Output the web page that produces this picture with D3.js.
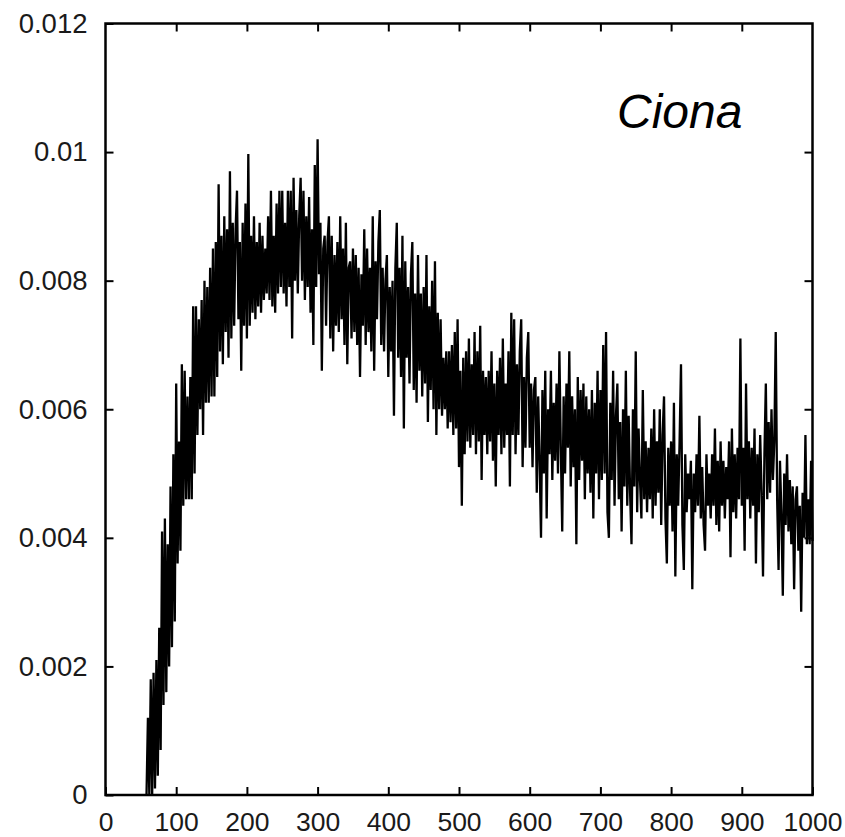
<!DOCTYPE html>
<html lang="en">
<head>
  <meta charset="UTF-8">
  <title>Ciona</title>
  <script src="https://d3js.org/d3.v7.min.js"></script>
  <style>
    body { margin: 0; background: #fff; }
    svg { display: block; }
    .tick text { font-family: "Liberation Sans", Arial, sans-serif; fill: #1a1a1a; }
    .x-axis .tick text { font-size: 26.5px; }
    .y-axis .tick text { font-size: 27.5px; }
  </style>
</head>
<body>
  <svg id="chart"></svg>

  <script>
    // sampled every 2 units starting at 58; values in units of 0.001
    const xFirst = 58;
    const xStep = 2;

    const riseValues = [
      0, 1.2, 0, 1.8, 0, 1.9, 0.1, 2.1, 0.3, 2.6, 0.7,
      4.1, 1.4, 4.3, 1.6, 3.9, 2.0, 4.8, 2.3, 5.3, 2.7, 6.4, 3.6, 5.5, 3.8, 6.7, 4.5, 6.6, 4.6, 6.2, 4.6,
      6.5, 4.6, 7.6, 5.0, 7.6, 5.6, 7.4, 6.0, 7.7, 5.6, 8.0, 6.1, 7.9, 6.1, 8.2, 6.2, 8.5, 6.2, 8.6, 6.5
    ];

    const peakValues = [
      9.5, 6.9, 8.7, 6.7, 9.0, 7.2, 8.8, 6.8, 9.7, 7.1, 8.9, 7.3, 8.8, 9.4, 7.4, 8.6, 6.6, 8.9, 7.3, 9.2,
      7.1, 9.97, 7.3, 8.7, 7.5, 9.0, 7.4, 8.6, 7.6, 8.9, 7.5, 8.7, 7.7, 8.5, 7.8, 9.0, 7.7, 9.4, 7.6, 8.7,
      7.5, 9.2, 7.8, 9.4, 7.9, 9.4, 7.8, 8.9, 7.6, 9.4, 7.9, 9.4, 7.1, 9.6, 8.0, 9.1, 7.8, 9.0, 9.6, 8.0,
      9.4, 7.7, 9.0, 7.9, 9.3, 7.5, 8.8, 7.0, 9.8, 7.9, 10.2, 8.1, 8.9, 6.6, 8.5, 8.7, 7.3, 8.6, 9.0, 7.1
    ];

    const declineValues = [
      8.7, 6.9, 8.4, 7.3, 8.6, 7.2, 9.0, 7.4, 8.5, 7.0, 8.9, 6.7, 8.2, 8.3, 7.1, 8.5, 7.2, 8.4, 7.0, 8.2,
      6.5, 8.1, 7.3, 8.8, 7.0, 8.5, 7.2, 8.2, 6.9, 9.0, 6.6, 8.3, 7.4, 8.6, 9.1, 7.0, 8.2, 6.9, 8.0, 8.4,
      6.5, 7.9, 6.9, 8.0, 5.9, 8.2, 8.9, 6.8, 8.2, 6.5, 8.7, 5.7, 8.3, 6.8, 7.9, 6.4, 8.1, 8.6, 6.3, 7.8,
      6.1, 8.4, 6.6, 7.8, 6.2, 7.9, 6.4, 8.4, 5.8, 7.6, 6.3, 8.0, 6.0, 8.3, 5.6, 7.5, 6.0, 7.4, 5.9, 6.8,
      6.0, 6.9, 5.7, 6.9, 5.8, 7.0, 5.6, 7.2, 5.7, 7.4, 5.1, 6.6, 4.5, 6.8, 5.3, 6.9, 5.5, 7.1, 5.4, 6.7
    ];

    const plateauValues = [
      5.6, 7.2, 5.3, 6.9, 5.5, 7.3, 4.9, 6.6, 5.6, 6.5, 5.3, 6.6, 5.5, 6.9, 5.2, 6.4, 4.8, 6.6, 5.6, 6.8,
      5.3, 7.1, 5.4, 6.4, 5.6, 6.9, 4.8, 7.5, 5.6, 7.4, 5.3, 6.7, 5.6, 6.9, 7.4, 5.1, 6.5, 5.4, 6.8, 7.2,
      5.4, 6.4, 5.1, 6.3, 6.5, 4.7, 6.2, 5.2, 4.0, 6.3, 5.0, 6.6, 4.3, 6.0, 5.3, 6.6, 4.9, 6.1, 5.2, 6.4,
      5.0, 6.9, 5.4, 4.1, 6.2, 5.0, 6.4, 5.4, 6.9, 4.8, 6.2, 5.1, 6.0, 3.9, 6.5, 4.9, 6.3, 5.2, 6.4, 4.6,
      6.2, 5.0, 6.0, 4.7, 6.3, 4.3, 6.1, 5.0, 6.6, 4.6, 6.3, 4.9, 7.0, 5.0, 7.2, 4.4, 4.0, 6.1, 4.9, 6.6
    ];

    const tailValues = [
      4.5, 5.9, 6.4, 4.6, 5.8, 4.1, 6.0, 4.8, 6.6, 4.5, 5.9, 4.7, 3.9, 6.0, 4.8, 6.9, 4.4, 5.7, 4.9, 4.3,
      6.3, 4.6, 5.5, 4.4, 5.4, 4.6, 5.7, 4.3, 6.0, 4.5, 5.5, 4.7, 6.0, 4.2, 5.6, 6.2, 4.3, 3.6, 5.4, 4.5,
      5.5, 4.1, 6.1, 3.4, 5.3, 4.5, 5.5, 6.7, 4.2, 3.5, 5.3, 4.4, 5.0, 4.6, 5.2, 3.2, 5.0, 4.4, 5.3, 4.5,
      5.9, 4.3, 5.1, 4.2, 3.8, 5.3, 4.5, 5.0, 4.3, 5.3, 4.5, 5.7, 4.2, 5.2, 4.1, 5.5, 4.5, 5.2, 4.3, 5.1,
      4.6, 5.5, 3.7, 5.7, 4.4, 5.3, 4.3, 5.4, 4.6, 7.1, 4.5, 5.4, 3.8, 6.4, 4.6, 5.5, 4.3, 5.4, 4.5, 5.7,
      3.6, 5.3, 4.4, 5.6, 4.7, 3.4, 5.3, 6.4, 4.6, 5.8, 4.7, 6.0, 4.9, 5.5, 7.2, 4.6, 3.5, 5.2, 4.4, 3.1,
      5.0, 4.2, 5.3, 4.1, 4.9, 3.9, 4.8, 3.2, 4.6, 4.8, 3.8, 4.5, 2.85, 4.7, 4.0, 5.6, 3.9, 4.6, 3.9, 5.2,
      3.95
    ];

    const xTicks = [0, 100, 200, 300, 400, 500, 600, 700, 800, 900, 1000];
    const yTicks = [0, 0.002, 0.004, 0.006, 0.008, 0.01, 0.012];
    const label = "Ciona";

    const width = 845;
    const height = 837;
    const plotLeft = 105.5, plotRight = 812.5, plotTop = 23.5, plotBottom = 795;

    const values = riseValues.concat(peakValues, declineValues, plateauValues, tailValues);
    const data = values.map((v, i) => ({ x: xFirst + i * xStep, y: v / 1000 }));

    const svg = d3.select("#chart")
      .attr("width", width)
      .attr("height", height);

    const x = d3.scaleLinear().domain([0, 1000]).range([plotLeft, plotRight]);
    const y = d3.scaleLinear().domain([0, 0.012]).range([plotBottom, plotTop]);

    const line = d3.line()
      .x(d => x(d.x))
      .y(d => y(d.y));

    svg.append("path")
      .datum(data)
      .attr("fill", "none")
      .attr("stroke", "#000")
      .attr("stroke-width", 2.3)
      .attr("stroke-linejoin", "bevel")
      .attr("d", line);

    const innerX = xTicks.slice(1, -1);
    const innerY = yTicks.slice(1, -1);

    // labelled axes
    svg.append("g")
      .attr("class", "x-axis")
      .attr("transform", `translate(0,${plotBottom})`)
      .call(d3.axisBottom(x).tickValues(xTicks).tickFormat(d3.format("d")).tickSizeInner(-8).tickSizeOuter(0).tickPadding(17))
      .call(g => g.select(".domain").remove());

    svg.append("g")
      .attr("class", "y-axis")
      .attr("transform", `translate(${plotLeft},0)`)
      .call(d3.axisLeft(y).tickValues(yTicks).tickFormat(d3.format("~g")).tickSizeInner(-8).tickSizeOuter(0).tickPadding(18))
      .call(g => g.select(".domain").remove());

    // mirrored ticks on top and right
    svg.append("g")
      .attr("transform", `translate(0,${plotTop})`)
      .call(d3.axisTop(x).tickValues(innerX).tickFormat("").tickSizeInner(-8).tickSizeOuter(0))
      .call(g => g.select(".domain").remove());

    svg.append("g")
      .attr("transform", `translate(${plotRight},0)`)
      .call(d3.axisRight(y).tickValues(innerY).tickFormat("").tickSizeInner(-8).tickSizeOuter(0))
      .call(g => g.select(".domain").remove());

    svg.selectAll(".tick line")
      .attr("stroke", "#000")
      .attr("stroke-width", 2);

    svg.append("rect")
      .attr("x", plotLeft)
      .attr("y", plotTop)
      .attr("width", plotRight - plotLeft)
      .attr("height", plotBottom - plotTop)
      .attr("fill", "none")
      .attr("stroke", "#000")
      .attr("stroke-width", 2.5);

    svg.append("text")
      .attr("x", 617)
      .attr("y", 128)
      .style("font-family", "'Liberation Sans', Arial, sans-serif")
      .style("font-style", "italic")
      .style("font-size", "48px")
      .attr("fill", "#000")
      .text(label);
  </script>
</body>
</html>
